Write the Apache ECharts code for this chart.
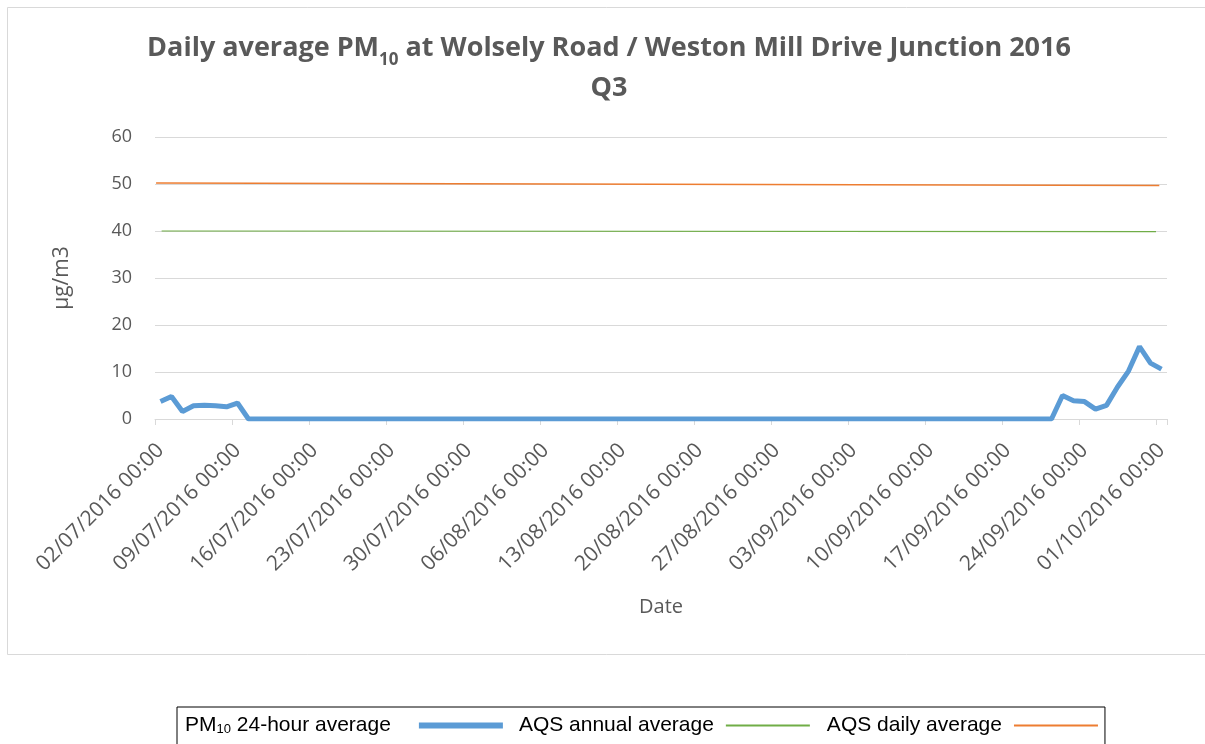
<!DOCTYPE html>
<html>
<head>
<meta charset="utf-8">
<script src="https://cdn.jsdelivr.net/npm/echarts@6/dist/echarts.min.js"></script>
<style>html,body{margin:0;padding:0;background:#fff}#c{width:1205px;height:744px}</style>
</head>
<body>
<div id="c"></div>
<script>
// ---- data ----
var startDate = [2016, 6, 2]; // 02/07/2016 (month 0-based)
var dayCount = 92;
var pm10 = [
  3.7, 4.8, 1.6, 2.8, 2.9, 2.8, 2.6, 3.4,
  0, 0, 0, 0, 0, 0, 0, 0, 0, 0,
  0, 0, 0, 0, 0, 0, 0, 0, 0, 0,
  0, 0, 0, 0, 0, 0, 0, 0, 0, 0,
  0, 0, 0, 0, 0, 0, 0, 0, 0, 0,
  0, 0, 0, 0, 0, 0, 0, 0, 0, 0,
  0, 0, 0, 0, 0, 0, 0, 0, 0, 0,
  0, 0, 0, 0, 0, 0, 0, 0, 0, 0,
  0, 0, 0, 0,
  5.0, 3.9, 3.7, 2.1, 2.9, 6.8, 10.2, 15.4, 11.9, 10.6
];
var aqsAnnual = [[0.6, 40.0], [91.0, 39.85]];
var aqsDaily = [[0.1, 50.2], [91.3, 49.7]];
var yTicks = [0, 10, 20, 30, 40, 50, 60];

function pad(n){return (n<10?'0':'')+n;}
var categories = [];
for (var i = 0; i < dayCount; i++) {
  var d = new Date(startDate[0], startDate[1], startDate[2] + i);
  categories.push(pad(d.getDate()) + '/' + pad(d.getMonth()+1) + '/' + d.getFullYear() + ' 00:00');
}

var chart = echarts.init(document.getElementById('c'), null, {renderer:'canvas'});
var txt = '#595959';
var grid = '#d9d9d9';
var option = {
  backgroundColor: '#fff',
  animation: false,
  graphic: [{
    type: 'rect', shape: {x: 7.5, y: 7.5, width: 1300, height: 647},
    style: {fill: 'none', stroke: '#d9d9d9', lineWidth: 1}, z: -10, silent: true
  }],
  title: {
    left: 604, top: 17, textAlign: 'center',
    text: '{b|Daily average PM}{s|10}{b| at Wolsely Road / Weston Mill Drive Junction 2016}\n{b|Q3}',
    textStyle: {
      rich: {
        b: {fontFamily: 'Open Sans', fontWeight: 'bold', fontSize: 27, color: txt, lineHeight: 40, verticalAlign: 'bottom'},
        s: {fontFamily: 'Open Sans', fontWeight: 'bold', fontSize: 17, color: txt, lineHeight: 40, verticalAlign: 'bottom', padding: [0, 0, -7, 0]}
      }
    }
  },
  legend: {
    left: 177, top: 707,
    align: 'right',
    padding: [8, 6, 20, 8],
    borderColor: '#000', borderWidth: 1, backgroundColor: '#fff',
    itemWidth: 84, itemHeight: 6, itemGap: 16,
    data: [
      {name: 'pm', icon: 'rect'},
      {name: 'annual', itemStyle: {opacity: 0}},
      {name: 'daily', itemStyle: {opacity: 0}}
    ],
    formatter: function(n){
      if (n === 'pm') return '{a|PM}{s|10}{a| 24-hour average}{g1|}';
      if (n === 'annual') return '{a|AQS annual average}{g|}';
      return '{a|AQS daily average}{g|}';
    },
    textStyle: {
      rich: {
        a: {fontFamily: 'Liberation Sans', fontSize: 21, color: '#000'},
        s: {fontFamily: 'Liberation Sans', fontSize: 13, color: '#000', padding: [7, 0, 0, 0]},
        g: {width: 7},
        g1: {width: 23}
      }
    }
  },
  grid: {left: 155, right: 38, top: 137, bottom: 325, containLabel: false},
  xAxis: [{
    type: 'category', data: categories, boundaryGap: true,
    axisLine: {lineStyle: {color: grid, width: 1}},
    axisTick: {show: true, interval: 6, length: 6, lineStyle: {color: grid}},
    axisLabel: {interval: 6, rotate: 45, color: txt, fontFamily: 'Open Sans', fontSize: 21, margin: 28},
    name: 'Date', nameLocation: 'middle', nameGap: 178,
    nameTextStyle: {color: txt, fontFamily: 'Open Sans', fontSize: 20}
  }, {
    type: 'value', min: 0, max: dayCount, show: false
  }],
  yAxis: {
    type: 'value', min: yTicks[0], max: yTicks[yTicks.length-1], interval: 10,
    axisLine: {show: false}, axisTick: {show: false},
    splitLine: {lineStyle: {color: grid, width: 1}},
    axisLabel: {color: txt, fontFamily: 'Open Sans', fontSize: 18, margin: 23},
    name: 'µg/m3', nameLocation: 'middle', nameGap: 82, nameRotate: 90,
    nameTextStyle: {color: txt, fontFamily: 'Open Sans', fontSize: 21}
  },
  series: [{
    name: 'pm', type: 'line', data: pm10, xAxisIndex: 0,
    symbol: 'none', lineStyle: {color: '#5b9bd5', width: 5}, itemStyle: {color: '#5b9bd5'}, z: 3
  }, {
    name: 'annual', type: 'line', data: aqsAnnual, xAxisIndex: 1,
    symbol: 'none', lineStyle: {color: '#70ad47', width: 1.2}, itemStyle: {color: '#70ad47'}, z: 2
  }, {
    name: 'daily', type: 'line', data: aqsDaily, xAxisIndex: 1,
    symbol: 'none', lineStyle: {color: '#ed7d31', width: 1.5}, itemStyle: {color: '#ed7d31'}, z: 2
  }]
};
chart.setOption(option);
</script>
</body>
</html>
